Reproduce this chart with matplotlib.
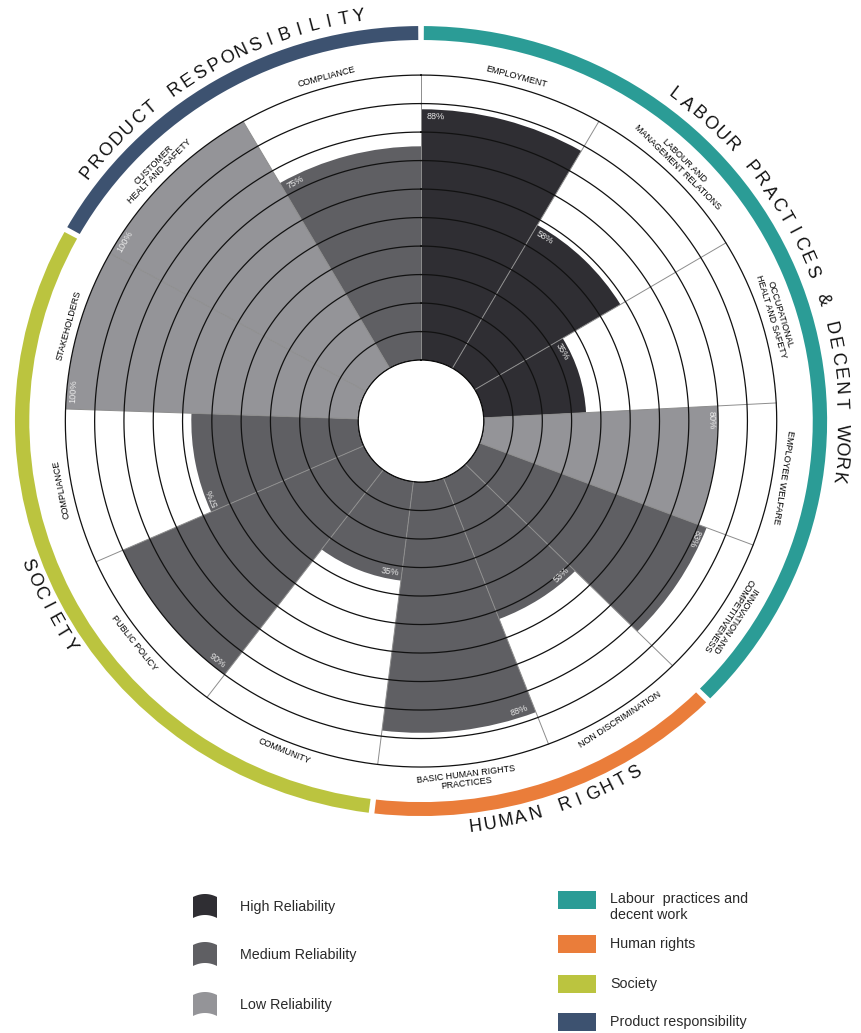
import numpy as np
import matplotlib.pyplot as plt
from matplotlib.patches import Polygon, Rectangle

# 字体
plt.rcParams['font.family'] = ['Liberation Sans', 'DejaVu Sans']

# 各分区（从正上方顺时针）
sections = ['EMPLOYMENT', 'LABOUR AND\nMANAGEMENT RELATIONS', 'OCCUPATIONAL\nHEALT AND SAFETY',
            'EMPLOYEE WELFARE', 'INNOVATION AND\nCOMPETITIVENESS', 'NON DISCRIMINATION',
            'BASIC HUMAN RIGHTS\nPRACTICES', 'COMMUNITY', 'PUBLIC POLICY', 'COMPLIANCE',
            'STAKEHOLDERS', 'CUSTOMER\nHEALT AND SAFETY', 'COMPLIANCE']
spans = [30, 29, 28, 24, 24, 24, 28, 30, 29, 26, 27, 31, 30]   # 每个分区的角度（度）
values = [88, 58, 35, 80, 83, 53, 88, 35, 90, 57, 100, 100, 75]
reliability = ['High', 'High', 'High', 'Low', 'Medium', 'Medium', 'Medium',
               'Medium', 'Medium', 'Medium', 'Low', 'Low', 'Medium']

categories = ['LABOUR PRACTICES & DECENT WORK', 'HUMAN RIGHTS', 'SOCIETY', 'PRODUCT RESPONSIBILITY']
cat_sizes = [5, 2, 4, 2]
cat_legend = ['Labour  practices and\ndecent work', 'Human rights', 'Society', 'Product responsibility']
rel_legend = ['High Reliability', 'Medium Reliability', 'Low Reliability']

rel_colors = {'High': '#2f2e33', 'Medium': '#5f5f63', 'Low': '#949498'}
cat_colors = ['#2b9c96', '#ea7d3a', '#bbc43f', '#3d5270']

starts = np.concatenate([[0], np.cumsum(spans)[:-1]])
mids = starts + np.array(spans) / 2


def flipped(a):
    # 下半部分的文字翻转，方便阅读
    return 130 < a % 360 < 250


fig = plt.figure(figsize=(8.61, 10.33), dpi=100)
ax = fig.add_axes([-0.0262, 0.1747, 1.0304, 0.8354], projection='polar')
ax.set_aspect('auto')
ax.set_theta_zero_location('N')
ax.set_theta_direction(-1)
ax.set_ylim(0, 130)
ax.set_rorigin(-21.4)
ax.grid(False)
ax.set_xticks([])
ax.set_yticks([])
for s in ax.spines.values():
    s.set_visible(False)
ax.patch.set_visible(False)

# 柱子
ax.bar(np.deg2rad(starts), values, width=np.deg2rad(spans), bottom=0, align='edge',
       color=[rel_colors[r] for r in reliability], linewidth=0, zorder=2)

# 同心圆
th = np.linspace(0, 2 * np.pi, 721)
for r in range(0, 101, 10):
    ax.plot(th, np.full_like(th, r), color='#111111', lw=0.9, zorder=4)

# 分隔线
for b in starts:
    ax.plot([np.deg2rad(b)] * 2, [0, 100], color='#8d8d8d', lw=0.7, zorder=3)

# 分区名称
for name, a in zip(sections, mids):
    if flipped(a):
        ax.text(np.deg2rad(a), 102, name, rotation=180 - a, rotation_mode='anchor',
                ha='center', va='top', multialignment='center', fontsize=6.5, linespacing=1.05)
    else:
        ax.text(np.deg2rad(a), 102, name, rotation=-a, rotation_mode='anchor',
                ha='center', va='bottom', multialignment='center', fontsize=6.5, linespacing=1.05)

# 百分比标签
for v, s0, a in zip(values, starts, mids):
    t = s0 + 1.0
    if flipped(a):
        ax.text(np.deg2rad(t), v - 0.8, f'{v}%', rotation=180 - t, rotation_mode='anchor',
                ha='right', va='bottom', fontsize=6.6, color='#ececec', zorder=5)
    else:
        ax.text(np.deg2rad(t), v - 0.8, f'{v}%', rotation=-t, rotation_mode='anchor',
                ha='left', va='top', fontsize=6.6, color='#ececec', zorder=5)

# 外圈类别色带与标题
gap = 0.8
idx = 0
for name, n, col in zip(categories, cat_sizes, cat_colors):
    a0 = starts[idx]
    a1 = a0 + sum(spans[idx:idx + n])
    idx += n
    ax.bar(np.deg2rad(a0 + gap / 2), 4.9, width=np.deg2rad(a1 - a0 - gap), bottom=112.3,
           align='edge', color=col, linewidth=0)
    c = (a0 + a1) / 2
    step = 2.1
    flip = flipped(c)
    for i, ch in enumerate(name):
        off = (i - (len(name) - 1) / 2) * step
        a = c - off if flip else c + off
        rot = 180 - a if flip else -a
        ax.text(np.deg2rad(a), 122, ch, rotation=rot, rotation_mode='anchor',
                ha='center', va='center', fontsize=13, color='#111111')

# 图例（像素坐标）
lax = fig.add_axes([0, 0, 1, 1])
lax.set_xlim(0, 861)
lax.set_ylim(1033, 0)
lax.axis('off')

rel_y = [907, 955, 1005]
for lab, key, y in zip(rel_legend, ['High', 'Medium', 'Low'], rel_y):
    xs = np.linspace(193, 217, 25)
    bulge = 3 * (1 - ((xs - 205) / 12) ** 2)
    top = np.column_stack([xs, y - 10 - bulge])
    bot = np.column_stack([xs[::-1], y + 11 - bulge[::-1]])
    lax.add_patch(Polygon(np.vstack([top, bot]), closed=True, color=rel_colors[key], lw=0))
    lax.text(240, y, lab, fontsize=10.3, va='center', ha='left', color='#2a2a2a')

cat_y = [900, 944, 984, 1022]
for lab, col, y in zip(cat_legend, cat_colors, cat_y):
    lax.add_patch(Rectangle((558, y - 9), 38, 18, color=col, lw=0))
    ty = y + 7 if '\n' in lab else y
    lax.text(610, ty, lab, fontsize=10.3, va='center', ha='left', color='#2a2a2a', linespacing=1.1)

fig.savefig('out.png', dpi=100, facecolor='white')
